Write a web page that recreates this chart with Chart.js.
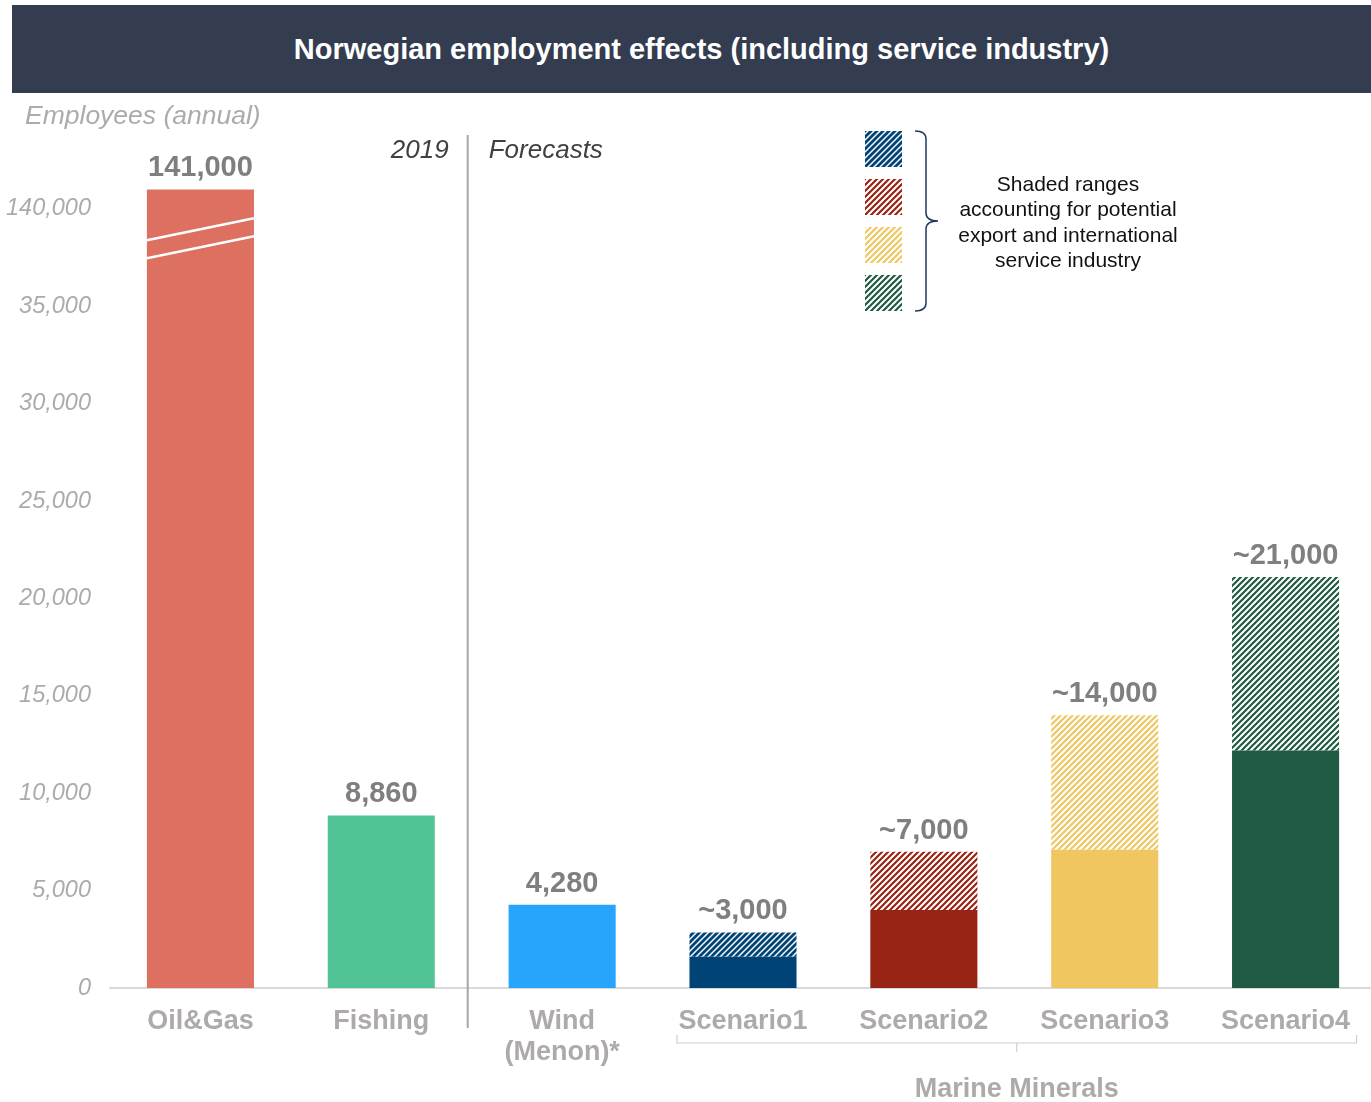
<!DOCTYPE html>
<html lang="en">
<head>
<meta charset="UTF-8">
<title>Norwegian employment effects</title>
<script src="https://cdn.jsdelivr.net/npm/chart.js"></script>
<style>
    html, body { margin: 0; padding: 0; background: #fff; }
    body {
        width: 1371px; height: 1102px; position: relative; overflow: hidden;
        font-family: 'Liberation Sans', Arial, sans-serif;
    }
    .banner {
        position: absolute; left: 12px; top: 5px; width: 1339px; height: 88px; padding-left: 20px;
        background: #333d4f; color: #fff; font-weight: bold; font-size: 29px;
        display: flex; align-items: center; justify-content: center; z-index: 2;
    }
    /* a bit wider than the window: the last category runs to the edge */
    .chart-box { position: absolute; left: 0; top: 0; width: 1376px; height: 1102px; }
</style>
</head>
<body>
<div class="banner">Norwegian employment effects (including service industry)</div>
<div class="chart-box"><canvas id="employmentChart"></canvas></div>
<script>
// data
const categories = ['Oil&Gas', 'Fishing', ['Wind', '(Menon)*'], 'Scenario1', 'Scenario2', 'Scenario3', 'Scenario4'];
const domesticValues = [141000, 8860, 4280, 1600, 4000, 7100, 12200];
const exportRangeValues = [null, null, null, 1250, 3000, 6900, 8900];
const valueLabels = ['141,000', '8,860', '4,280', '~3,000', '~7,000', '~14,000', '~21,000'];
const yTickValues = [0, 5000, 10000, 15000, 20000, 25000, 30000, 35000, 40000];
const axisBreakOffset = 100000; // oil&gas drawn below the break
const axisBreakAt = 40000;

const barColors = ['#dd7060', '#51c394', '#27a4fc', '#004376', '#972414', '#f0c661', '#1f5b42'];
const labelGrey = '#aeaaaa';
const FONT = "'Liberation Sans', Arial, sans-serif";

function makeHatch(color, size, width) {
    const c = document.createElement('canvas');
    c.width = size; c.height = size;
    const g = c.getContext('2d');
    g.fillStyle = '#fff';
    g.fillRect(0, 0, size, size);
    g.strokeStyle = color;
    g.lineWidth = width;
    g.beginPath();
    g.moveTo(-1, 1); g.lineTo(1, -1);
    g.moveTo(-1, size + 1); g.lineTo(size + 1, -1);
    g.moveTo(size - 1, size + 1); g.lineTo(size + 1, size - 1);
    g.stroke();
    return g.createPattern(c, 'repeat');
}
const hatches = barColors.map((c, i) => makeHatch(c, 6, i === 3 ? 2.8 : 2.2));

const plottedDomestic = domesticValues.map(v => v > axisBreakAt ? v - axisBreakOffset : v);

const overlay = {
    id: 'overlay',
    afterDatasetsDraw(chart) {
        const ctx = chart.ctx;
        const x = chart.scales.x, y = chart.scales.y;
        const bar = chart.getDatasetMeta(0).data[0];
        ctx.save();

        // axis break on the oil&gas bar
        const half = bar.width / 2;
        const by = y.getPixelForValue(38500);
        ctx.strokeStyle = '#fff';
        ctx.lineWidth = 2.5;
        [-9, 9].forEach(off => {
            ctx.beginPath();
            ctx.moveTo(bar.x - half, by + off + 11);
            ctx.lineTo(bar.x + half, by + off - 11);
            ctx.stroke();
        });

        // value labels
        ctx.fillStyle = '#7f7f7f';
        ctx.font = 'bold 29px ' + FONT;
        ctx.textAlign = 'center';
        ctx.textBaseline = 'alphabetic';
        categories.forEach((c, i) => {
            const total = plottedDomestic[i] + (exportRangeValues[i] || 0);
            ctx.fillText(valueLabels[i], x.getPixelForValue(i), y.getPixelForValue(total) - 13);
        });

        // y title
        ctx.fillStyle = labelGrey;
        ctx.font = 'italic 26.5px ' + FONT;
        ctx.textAlign = 'left';
        ctx.textBaseline = 'middle';
        ctx.fillText('Employees (annual)', 25, 117);

        // 2019 | Forecasts divider
        const sepX = (x.getPixelForValue(1) + x.getPixelForValue(2)) / 2 - 4;
        ctx.strokeStyle = '#a6a6a6';
        ctx.lineWidth = 2;
        ctx.beginPath();
        ctx.moveTo(sepX, 135);
        ctx.lineTo(sepX, 1028);
        ctx.stroke();
        ctx.fillStyle = '#404040';
        ctx.font = 'italic 26px ' + FONT;
        ctx.textAlign = 'right';
        ctx.fillText('2019', sepX - 19, 151);
        ctx.textAlign = 'left';
        ctx.fillText('Forecasts', sepX + 21, 151);

        // legend squares + brace
        [3, 4, 5, 6].forEach((ci, k) => {
            ctx.fillStyle = hatches[ci];
            ctx.fillRect(865, 131 + k * 48, 37, 36);
        });
        ctx.strokeStyle = '#1f3a5f';
        ctx.lineWidth = 1.5;
        ctx.beginPath();
        ctx.moveTo(915, 131);
        ctx.quadraticCurveTo(926, 131, 926, 139);
        ctx.lineTo(926, 213);
        ctx.quadraticCurveTo(926, 221, 938, 221);
        ctx.quadraticCurveTo(926, 221, 926, 229);
        ctx.lineTo(926, 303);
        ctx.quadraticCurveTo(926, 311, 915, 311);
        ctx.stroke();
        ctx.fillStyle = '#111';
        ctx.font = '21px ' + FONT;
        ctx.textAlign = 'center';
        ['Shaded ranges', 'accounting for potential', 'export and international', 'service industry']
            .forEach((t, k) => ctx.fillText(t, 1068, 185 + k * 25.5));

        // marine minerals bracket
        const bl = x.getPixelForValue(3) - 66, br = x.getPixelForValue(6) + 71, bm = (bl + br) / 2;
        ctx.strokeStyle = '#d0cccc';
        ctx.lineWidth = 1.2;
        ctx.beginPath();
        ctx.moveTo(bl, 1035); ctx.lineTo(bl, 1043); ctx.lineTo(br, 1043); ctx.lineTo(br, 1035);
        ctx.moveTo(bm, 1043); ctx.lineTo(bm, 1052);
        ctx.stroke();
        ctx.fillStyle = labelGrey;
        ctx.font = 'bold 27px ' + FONT;
        ctx.fillText('Marine Minerals', bm, 1090);

        ctx.restore();
    }
};

new Chart(document.getElementById('employmentChart'), {
    type: 'bar',
    data: {
        labels: categories,
        datasets: [
            { label: 'Domestic', data: plottedDomestic, backgroundColor: barColors, stack: 's' },
            { label: 'Export range', data: exportRangeValues, backgroundColor: hatches, stack: 's' }
        ]
    },
    options: {
        responsive: true,
        maintainAspectRatio: false,
        animation: false,
        layout: { padding: { top: 170, left: 0, right: 0, bottom: 0 } },
        datasets: { bar: { categoryPercentage: 1, barPercentage: 0.592 } },
        plugins: { legend: { display: false }, tooltip: { enabled: false } },
        scales: {
            x: {
                stacked: true,
                grid: { display: false, drawTicks: false },
                border: { display: true, color: '#d9d9d9', width: 2 },
                ticks: { color: labelGrey, padding: 18, font: { family: FONT, size: 27, weight: 'bold', lineHeight: 1.16 } },
                afterFit(scale) { scale.height = 114; }
            },
            y: {
                stacked: true,
                min: 0,
                max: 42000,
                grid: { display: false, drawTicks: false },
                border: { display: false },
                afterBuildTicks(scale) { scale.ticks = yTickValues.map(v => ({ value: v })); },
                ticks: {
                    color: labelGrey,
                    padding: 19,
                    font: { family: FONT, size: 23.5, style: 'italic' },
                    callback: v => (v >= axisBreakAt ? v + axisBreakOffset : v).toLocaleString('en-US')
                },
                afterFit(scale) { scale.width = 110; }
            }
        }
    },
    plugins: [overlay]
});
</script>
</body>
</html>
